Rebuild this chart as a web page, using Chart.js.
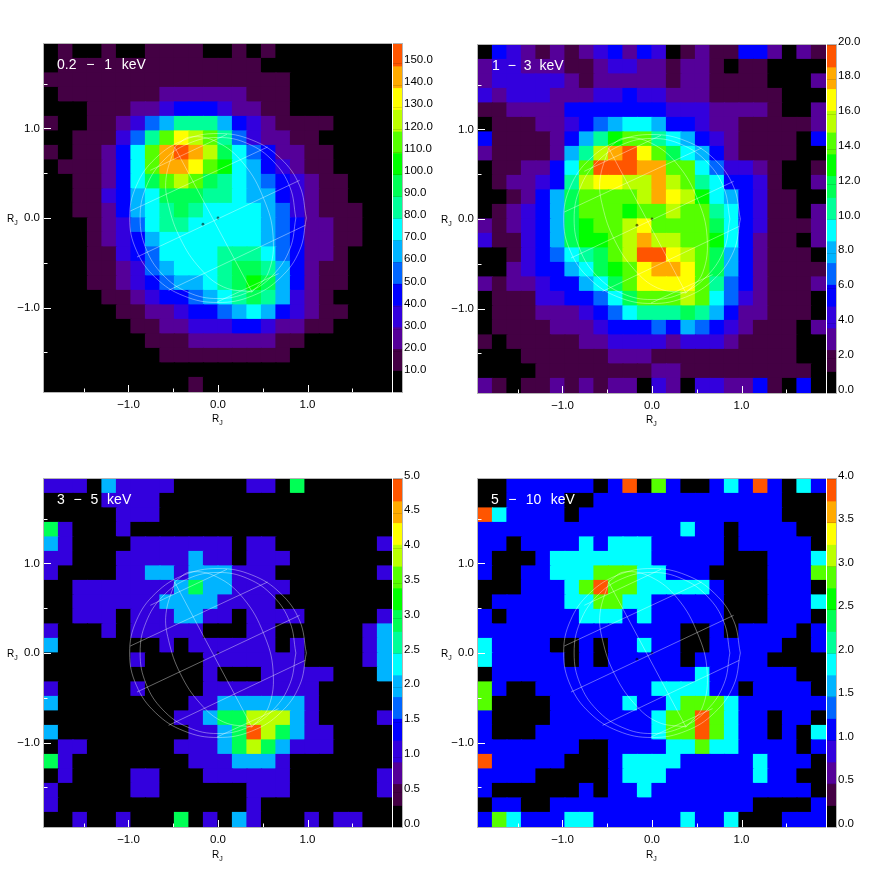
<!DOCTYPE html>
<html>
<head>
<meta charset="utf-8">
<title>Jupiter X-ray maps</title>
<script src="https://cdn.jsdelivr.net/npm/chart.js@4/dist/chart.umd.min.js"></script>
<style>
    html, body { margin: 0; padding: 0; background: #fff; }
    body { position: relative; width: 869px; height: 872px; overflow: hidden; font-family: "Liberation Sans", sans-serif; }
    canvas { position: absolute; }
    .band { position: absolute; color: #fff; font-size: 14px; line-height: 14px; white-space: pre; }
    .rj { position: absolute; color: #000; font-size: 10px; line-height: 10px; }
    .rj sub { font-size: 7px; line-height: 0; }
</style>
</head>
<body>
<script>
// colour bands of the colour bars, bottom to top
const bandColors = ['#000000', '#440044', '#550099', '#3300dd', '#0000ff', '#0066ff', '#00b4ff', '#00ffff',
    '#00ff99', '#00ff55', '#00ff00', '#55ff00', '#bbff00', '#ffff00', '#ffaa00', '#ff5500'];

const axisTicks = [-1, 0, 1];
const axisMinorTicks = [-1.5, -0.5, 0.5, 1.5];
const axisMax = 1.944;

// 0.2 - 1 keV, colour band of each cell, top row first
const softBands = [
    [0,1,0,0,1,0,0,1,1,1,1,0,0,1,0,1,0,0,0,0,0,0,0,0],
    [0,1,1,1,1,1,1,1,1,1,1,1,1,1,1,0,0,0,0,0,0,0,0,0],
    [1,1,1,1,1,1,1,1,1,1,1,1,1,1,1,1,1,0,0,0,0,0,0,0],
    [0,1,1,1,1,1,1,1,2,2,2,2,2,2,1,1,1,0,0,0,0,0,0,0],
    [0,0,0,1,1,1,2,2,3,4,4,4,3,2,2,1,1,0,0,0,0,0,0,0],
    [1,0,0,1,1,2,3,5,6,8,8,8,6,4,3,2,1,1,1,1,0,0,0,0],
    [0,0,1,1,1,3,5,8,11,13,12,11,8,5,3,2,2,1,1,0,0,0,0,0],
    [1,0,1,1,2,4,7,11,14,15,14,12,9,7,5,4,2,2,1,1,0,0,0,0],
    [0,1,1,1,2,4,7,11,14,14,13,11,10,7,6,4,3,2,1,1,0,0,0,0],
    [0,0,1,1,2,4,7,9,11,12,11,9,8,7,6,5,4,3,2,1,1,0,0,0],
    [0,0,1,1,3,4,6,7,9,9,9,8,8,7,6,6,4,3,2,1,1,0,0,0],
    [0,0,1,1,2,4,6,7,8,9,8,7,7,7,7,6,5,3,2,1,1,1,0,0],
    [0,0,0,1,2,3,5,7,8,8,7,7,7,7,7,6,5,4,2,2,1,1,0,0],
    [0,0,0,1,2,3,4,6,7,7,7,7,7,7,7,6,5,4,2,2,1,1,0,0],
    [0,0,0,1,1,3,4,5,7,7,7,7,8,8,8,7,5,4,2,2,1,0,0,0],
    [0,0,0,1,1,2,3,5,6,7,7,7,8,9,9,8,6,4,2,1,1,0,0,0],
    [0,0,0,1,1,2,3,4,5,6,6,7,8,9,10,9,6,4,2,1,1,0,0,0],
    [0,0,0,0,1,1,2,3,4,4,5,6,7,8,9,8,6,3,2,1,0,0,0,0],
    [0,0,0,0,0,1,1,2,2,3,4,4,5,6,7,6,4,3,2,1,1,0,0,0],
    [0,0,0,0,0,0,1,1,2,2,3,3,3,4,4,3,2,2,1,1,0,0,0,0],
    [0,0,0,0,0,0,0,1,1,1,2,2,2,2,2,2,1,1,0,0,0,0,0,0],
    [0,0,0,0,0,0,0,0,1,1,1,1,1,1,1,1,1,0,0,0,0,0,0,0],
    [0,0,0,0,0,0,0,0,0,0,0,0,0,0,0,0,0,0,0,0,0,0,0,0],
    [0,0,0,0,0,0,0,0,0,0,1,0,0,0,0,0,0,0,0,0,0,0,0,0]
];

// 1 - 3 keV
const midBands = [
    [0,4,3,2,1,2,1,2,3,4,2,4,3,0,1,2,1,1,4,4,2,0,2,1],
    [2,3,3,2,2,2,1,1,2,3,3,2,2,1,2,2,1,0,1,1,0,0,0,0],
    [2,3,3,3,3,3,2,1,2,2,2,2,2,1,2,2,1,1,1,1,0,0,0,2],
    [3,2,3,3,3,2,2,2,3,3,4,3,3,2,2,2,1,1,1,1,1,0,0,0],
    [1,1,2,2,2,2,4,4,4,4,4,4,4,3,3,3,2,2,2,2,1,0,0,2],
    [0,1,1,1,2,2,3,4,5,6,7,7,6,4,4,3,2,2,1,1,1,1,1,2],
    [4,1,1,1,1,2,4,6,8,10,11,11,8,7,6,4,3,2,1,1,1,1,0,4],
    [2,1,1,1,1,2,6,8,12,14,15,13,11,9,7,6,4,2,1,1,1,1,0,0],
    [0,1,1,2,2,4,7,11,15,15,15,14,14,11,11,7,5,3,3,2,1,0,0,1],
    [0,1,2,2,3,4,8,12,13,13,12,12,14,12,11,8,7,4,4,3,1,0,0,2],
    [0,0,1,2,4,6,9,11,11,11,11,12,14,13,12,10,7,6,4,3,1,1,0,0],
    [0,1,2,3,4,6,9,11,11,11,10,11,11,12,11,11,8,7,4,3,1,1,0,2],
    [2,1,2,3,4,6,9,10,11,11,12,13,11,11,11,11,9,7,4,3,1,1,1,2],
    [3,1,1,3,4,6,9,10,10,11,12,14,12,12,11,11,10,7,4,2,1,1,0,2],
    [0,0,1,3,4,5,7,8,9,11,12,15,15,13,12,11,9,6,4,2,1,1,1,0],
    [0,0,2,3,4,4,6,7,9,10,11,13,14,14,13,11,9,6,4,2,1,1,1,1],
    [2,1,2,2,3,4,4,6,7,9,11,13,13,13,13,11,8,5,4,2,1,1,1,2],
    [0,1,1,1,3,3,4,4,5,7,9,11,11,11,12,11,7,5,3,2,1,1,1,0],
    [0,1,1,1,2,2,2,3,4,5,7,8,8,8,9,8,6,4,2,2,1,1,1,0],
    [0,1,1,1,1,2,2,2,3,4,4,4,5,4,6,5,4,3,2,1,1,1,0,2],
    [1,0,1,1,1,1,1,2,2,3,3,3,3,2,3,3,3,2,1,1,1,1,0,0],
    [0,0,0,1,1,1,1,1,1,2,2,2,1,1,1,1,1,1,1,1,1,1,0,0],
    [0,0,0,0,1,1,1,1,1,1,1,1,2,2,1,1,1,1,1,1,1,1,1,0],
    [2,1,0,1,1,2,1,2,1,2,2,0,3,2,0,3,3,2,2,4,1,0,4,0]
];

// 3 - 5 keV, counts per cell
const hardCounts = [
    [1,1,1,0,2,1,1,1,1,0,0,0,0,0,1,1,0,3,0,0,0,0,0,0],
    [0,0,0,0,1,1,1,1,0,0,0,0,0,0,0,0,0,0,0,0,0,0,0,0],
    [0,0,0,0,0,1,1,1,0,0,0,0,0,0,0,0,0,0,0,0,0,0,0,0],
    [3,1,0,0,0,1,0,0,0,0,0,0,0,0,0,0,0,0,0,0,0,0,0,0],
    [2,1,0,0,0,0,1,1,1,1,1,1,1,0,1,1,0,0,0,0,0,0,0,1],
    [1,1,0,0,0,1,1,1,1,1,2,1,1,0,1,1,1,0,0,0,0,0,0,0],
    [1,0,0,0,0,1,1,2,2,1,2,2,2,1,1,1,0,0,0,0,0,0,0,1],
    [0,0,1,1,1,1,1,1,1,2,3,2,2,1,1,1,1,0,0,0,0,0,0,0],
    [0,0,1,1,1,1,1,1,2,2,2,2,1,1,1,1,0,0,0,0,0,0,0,0],
    [0,0,1,1,1,0,1,1,1,2,2,1,1,0,1,1,1,1,0,0,0,0,0,1],
    [1,0,0,0,1,0,1,1,1,1,1,0,0,0,1,1,0,0,0,0,0,0,1,2],
    [2,0,0,0,0,0,0,0,1,0,1,1,1,1,1,1,0,1,0,0,0,0,1,2],
    [0,0,0,0,0,0,1,0,0,0,0,1,1,1,1,1,1,1,0,0,0,0,1,2],
    [0,0,0,0,0,0,0,0,0,0,0,1,0,0,0,1,1,1,1,1,0,0,0,2],
    [1,0,0,0,0,0,1,0,0,0,0,1,1,1,1,1,1,1,1,0,0,0,0,0],
    [2,0,0,0,0,0,0,0,0,0,1,1,2,2,2,2,2,2,1,0,0,0,0,0],
    [0,0,0,0,0,0,0,0,0,1,1,2,3,3,4,4,4,2,1,0,0,0,0,1],
    [2,0,0,0,0,0,0,0,0,0,1,1,2,3,5,4,3,2,1,1,0,0,0,0],
    [0,1,1,0,0,0,0,0,0,1,1,1,2,3,4,3,2,1,1,1,0,0,0,0],
    [3,1,0,0,0,0,0,0,0,0,1,1,1,2,2,2,1,0,0,0,0,0,0,0],
    [0,1,0,0,0,0,1,1,0,0,0,1,1,1,1,1,1,0,0,0,0,0,0,1],
    [1,0,0,0,0,0,1,1,0,0,0,0,0,0,1,1,1,0,0,0,0,0,0,1],
    [1,0,0,0,0,0,0,0,0,0,0,0,0,0,1,0,0,0,0,0,0,0,0,0],
    [0,0,1,0,0,1,0,0,0,3,0,1,0,2,1,0,0,0,1,0,1,1,0,0]
];

// 5 - 10 keV, counts per cell
const topCounts = [
    [0,0,1,1,1,1,1,1,0,1,4,0,3,1,0,0,1,2,1,4,1,0,2,1],
    [0,0,1,1,1,1,0,0,1,1,1,1,1,1,1,1,1,1,1,1,1,0,0,0],
    [4,2,1,1,1,1,0,1,1,1,1,1,1,1,1,1,1,1,1,1,1,0,0,0],
    [1,1,1,1,1,1,1,1,1,1,1,1,1,1,2,1,1,0,1,1,1,1,0,0],
    [1,1,0,1,1,1,1,2,1,2,2,2,1,1,1,1,1,0,1,1,1,1,1,0],
    [1,0,0,0,1,2,2,2,2,2,2,2,1,1,1,1,1,0,0,0,1,1,1,2],
    [1,0,0,1,1,2,2,2,3,3,3,2,2,1,1,1,0,0,0,0,1,1,1,3],
    [0,0,0,1,1,1,2,3,4,3,3,2,2,2,2,2,1,0,0,0,1,1,1,0],
    [0,1,1,1,1,1,2,2,3,3,2,2,1,1,1,1,1,0,0,0,1,1,1,2],
    [1,0,1,1,1,1,1,2,2,2,1,2,1,1,1,1,1,0,0,0,1,1,1,0],
    [1,1,1,1,1,1,1,1,1,1,1,1,1,1,0,0,1,0,1,1,1,1,0,1],
    [2,1,1,1,1,0,0,1,0,1,1,2,1,1,0,0,1,1,1,1,1,0,0,1],
    [2,1,1,1,1,1,0,1,0,1,1,1,1,1,0,1,1,1,1,1,0,0,0,0],
    [0,1,1,1,1,1,1,1,1,1,1,1,1,1,1,2,1,1,1,1,1,1,0,0],
    [3,1,0,0,1,1,1,1,1,1,1,1,2,2,2,2,1,1,0,1,1,1,1,0],
    [3,0,0,0,0,1,1,1,1,1,2,1,1,2,3,3,3,2,1,1,1,1,1,1],
    [1,0,0,0,0,1,1,1,1,1,1,1,2,3,3,4,3,2,1,1,0,1,1,0],
    [1,0,0,0,1,1,1,1,1,1,1,1,2,3,3,4,3,2,1,1,0,1,0,2],
    [1,1,1,1,1,1,1,0,0,1,1,1,1,2,2,3,2,2,1,1,1,1,0,1],
    [4,1,1,1,1,1,0,0,0,1,2,2,2,2,1,1,1,1,1,2,1,1,1,0],
    [1,1,1,1,0,0,0,0,0,1,2,2,2,1,1,1,1,1,1,2,1,1,0,0],
    [1,0,0,0,0,0,0,1,0,1,1,2,1,1,1,1,1,1,1,1,1,1,1,0],
    [0,1,1,0,0,1,1,1,1,1,1,1,1,1,1,1,1,1,1,0,0,0,0,1],
    [1,3,2,1,1,1,2,2,1,1,1,1,1,1,2,1,1,2,0,0,0,1,1,1]
];

// which colour band a count falls in
const hardCountBands = [0, 3, 6, 9, 12, 15];
const topCountBands = [0, 4, 7, 11, 15];

// colour bar tick labels
const softBarTicks = [10,20,30,40,50,60,70,80,90,100,110,120,130,140,150];
const midBarTicks = [0,2,4,6,8,10,12,14,16,18,20];
const hardBarTicks = [0,0.5,1,1.5,2,2.5,3,3.5,4,4.5,5];
const topBarTicks = [0,0.5,1,1.5,2,2.5,3,3.5,4];

// planet outline, in R_J
const limbOuter = [[0.987,0],[0.912,0.361],[0.698,0.667],[0.378,0.872],[0,0.944],[-0.378,0.872],[-0.698,0.667],[-0.912,0.361],[-0.987,0],[-0.912,-0.361],[-0.698,-0.667],[-0.378,-0.872],[0,-0.944],[0.378,-0.872],[0.698,-0.667],[0.912,-0.361],[0.987,0]];
const limbInner = [[0.87,0],[0.804,0.344],[0.615,0.636],[0.333,0.831],[0,0.90],[-0.333,0.831],[-0.615,0.636],[-0.804,0.344],[-0.87,0],[-0.804,-0.344],[-0.615,-0.636],[-0.333,-0.831],[0,-0.90],[0.333,-0.831],[0.615,-0.636],[0.804,-0.344],[0.87,0]];
const meridianLeft = [[-0.48,0.80],[-0.581,0.44],[-0.552,0.142],[-0.421,-0.23],[-0.198,-0.565],[0.063,-0.771],[0.38,-0.827]];
const meridianMid = [[-0.485,0.793],[0.38,-0.827]];
const meridianRight = [[-0.48,0.80],[-0.31,0.905],[-0.011,0.849],[0.286,0.608],[0.51,0.217],[0.615,-0.193],[0.565,-0.603],[0.38,-0.827]];
const parallels = [
    [[-0.756,0.533],[0.10,0.935]],
    [[-0.98,0.078],[0.554,0.793]],
    [[-0.905,-0.436],[0.912,0.421]],
    [[-0.552,-0.808],[0.975,-0.082]],
    [[-0.011,-0.939],[0.677,-0.621]]
];
const centreDots = [[0,0],[-0.168,-0.07]];

const tickFont = { family: '"Liberation Sans", sans-serif', size: 11.5 };
const frameColor = '#b4b4b4';

// frame round the chart area
const framePlugin = {
    id: 'frame',
    afterDraw(chart) {
        const { ctx, chartArea: a } = chart;
        ctx.save();
        ctx.strokeStyle = frameColor;
        ctx.lineWidth = 1;
        ctx.strokeRect(a.left - 0.5, a.top - 0.5, a.right - a.left + 1, a.bottom - a.top + 1);
        ctx.restore();
    }
};

// short white ticks pointing into the map, major ones longer
const inwardTicks = {
    id: 'inwardTicks',
    afterDatasetsDraw(chart) {
        const { ctx, chartArea: a, scales } = chart;
        const draw = (values, len) => {
            values.forEach(v => {
                const px = Math.round(scales.x.getPixelForValue(v)) + 0.5;
                const py = Math.round(scales.y.getPixelForValue(v)) + 0.5;
                ctx.moveTo(px, a.bottom);
                ctx.lineTo(px, a.bottom - len);
                ctx.moveTo(a.left, py);
                ctx.lineTo(a.left + len, py);
            });
        };
        ctx.save();
        ctx.strokeStyle = '#fff';
        ctx.lineWidth = 1;
        ctx.beginPath();
        draw(axisTicks, 7);
        draw(axisMinorTicks, 3.5);
        ctx.stroke();
        ctx.restore();
    }
};

const toPoints = pairs => pairs.map(p => ({ x: p[0], y: p[1] }));

const overlayLine = (pairs, tension) => ({
    type: 'scatter',
    data: toPoints(pairs),
    showLine: true,
    tension: tension,
    borderColor: 'rgba(255,255,255,0.5)',
    borderWidth: 0.8,
    pointRadius: 0,
    order: 0
});

function addCanvas(left, top, width, height) {
    const c = document.createElement('canvas');
    c.width = width;
    c.height = height;
    c.style.left = left + 'px';
    c.style.top = top + 'px';
    document.body.appendChild(c);
    return c.getContext('2d');
}

function addMap(left, top, rows, toBand) {
    const cell = (axisMax * 2) / rows.length;
    const cells = [];
    const colors = [];
    rows.forEach((row, r) => {
        row.forEach((v, c) => {
            cells.push({
                x: -axisMax + (c + 0.5) * cell,
                y: [axisMax - (r + 1) * cell, axisMax - r * cell]
            });
            colors.push(bandColors[toBand(v)]);
        });
    });

    new Chart(addCanvas(left, top, 392, 432), {
        type: 'bar',
        data: {
            datasets: [
                overlayLine(limbOuter, 0.4),
                overlayLine(limbInner, 0.4),
                overlayLine(meridianLeft, 0.4),
                overlayLine(meridianMid, 0),
                overlayLine(meridianRight, 0.4),
                ...parallels.map(p => overlayLine(p, 0)),
                {
                    type: 'scatter',
                    data: toPoints(centreDots),
                    pointRadius: 1.4,
                    pointBorderWidth: 0,
                    pointBackgroundColor: 'rgba(0,0,0,0.55)',
                    order: 0
                },
                {
                    type: 'bar',
                    data: cells,
                    backgroundColor: colors,
                    borderWidth: 0,
                    inflateAmount: 0.6,
                    barPercentage: 1,
                    categoryPercentage: 1,
                    order: 1
                }
            ]
        },
        options: {
            responsive: false,
            animation: false,
            events: [],
            layout: { autoPadding: false, padding: { top: 44, right: 0, bottom: 0, left: 0 } },
            plugins: { legend: { display: false }, tooltip: { enabled: false } },
            scales: {
                x: {
                    type: 'linear',
                    offset: false,
                    min: -axisMax,
                    max: axisMax,
                    afterBuildTicks: s => { s.ticks = axisTicks.map(v => ({ value: v })); },
                    afterFit: s => { s.height = 40; s.paddingLeft = 0; s.paddingRight = 0; },
                    grid: { display: false, offset: false, drawTicks: false },
                    border: { display: false },
                    ticks: {
                        font: tickFont,
                        color: '#000',
                        padding: 6,
                        maxRotation: 0,
                        callback: v => (v < 0 ? '\u2212' : '') + Math.abs(v).toFixed(1)
                    }
                },
                y: {
                    type: 'linear',
                    min: -axisMax,
                    max: axisMax,
                    afterBuildTicks: s => { s.ticks = axisTicks.map(v => ({ value: v })); },
                    afterFit: s => { s.width = 44; s.paddingTop = 0; s.paddingBottom = 0; },
                    grid: { display: false, drawTicks: false },
                    border: { display: false },
                    ticks: {
                        font: tickFont,
                        color: '#000',
                        padding: 4,
                        callback: v => (v < 0 ? '\u2212' : '') + Math.abs(v).toFixed(1)
                    }
                }
            }
        },
        plugins: [inwardTicks, framePlugin]
    });
}

function addColorBar(left, top, barMin, barMax, barTicks) {
    const step = (barMax - barMin) / bandColors.length;
    const bars = bandColors.map((c, i) => ({ x: 0, y: [barMin + i * step, barMin + (i + 1) * step] }));

    new Chart(addCanvas(left, top - 10, 49, 368), {
        type: 'bar',
        data: {
            datasets: [{
                data: bars,
                backgroundColor: bandColors,
                borderWidth: 0,
                inflateAmount: 0.6,
                barThickness: 9
            }]
        },
        options: {
            responsive: false,
            animation: false,
            events: [],
            layout: { autoPadding: false, padding: { top: 10, right: 0, bottom: 10, left: 0 } },
            plugins: { legend: { display: false }, tooltip: { enabled: false } },
            scales: {
                x: { type: 'linear', display: false, offset: false, min: -0.5, max: 0.5 },
                y: {
                    type: 'linear',
                    position: 'right',
                    min: barMin,
                    max: barMax,
                    afterBuildTicks: s => { s.ticks = barTicks.map(v => ({ value: v })); },
                    afterFit: s => { s.width = 40; s.paddingTop = 0; s.paddingBottom = 0; },
                    grid: { color: 'rgba(0,0,0,0.13)', z: 1, drawTicks: false },
                    border: { display: false },
                    ticks: {
                        font: tickFont,
                        color: '#000',
                        padding: 2,
                        labelOffset: -3.5,
                        callback: v => v.toFixed(1)
                    }
                }
            }
        },
        plugins: [framePlugin]
    });
}

function addText(cls, left, top, html, wordGap) {
    const d = document.createElement('div');
    d.className = cls;
    d.style.left = left + 'px';
    d.style.top = top + 'px';
    if (wordGap) d.style.wordSpacing = wordGap + 'px';
    d.innerHTML = html;
    document.body.appendChild(d);
}

addMap(0, 0, softBands, b => b);
addMap(434, 1, midBands, b => b);
addMap(0, 435, hardCounts, n => hardCountBands[n]);
addMap(434, 435, topCounts, n => topCountBands[n]);

addColorBar(393, 44, 1.6, 158.8, softBarTicks);
addColorBar(827, 45, 0, 20, midBarTicks);
addColorBar(393, 479, 0, 5, hardBarTicks);
addColorBar(827, 479, 0, 4, topBarTicks);

addText('band', 57, 57, '0.2 \u2212 1 keV', 5.9);
addText('band', 492, 58, '1 \u2212 3 keV', 4);
addText('band', 57, 492, '3 \u2212 5 keV', 4.9);
addText('band', 491, 492, '5 \u2212 10 keV', 5.5);

const rj = 'R<sub>J</sub>';
addText('rj', 7, 214, rj);
addText('rj', 441, 215, rj);
addText('rj', 7, 649, rj);
addText('rj', 441, 649, rj);
addText('rj', 212, 414, rj);
addText('rj', 646, 415, rj);
addText('rj', 212, 850, rj);
addText('rj', 646, 850, rj);
</script>
</body>
</html>
